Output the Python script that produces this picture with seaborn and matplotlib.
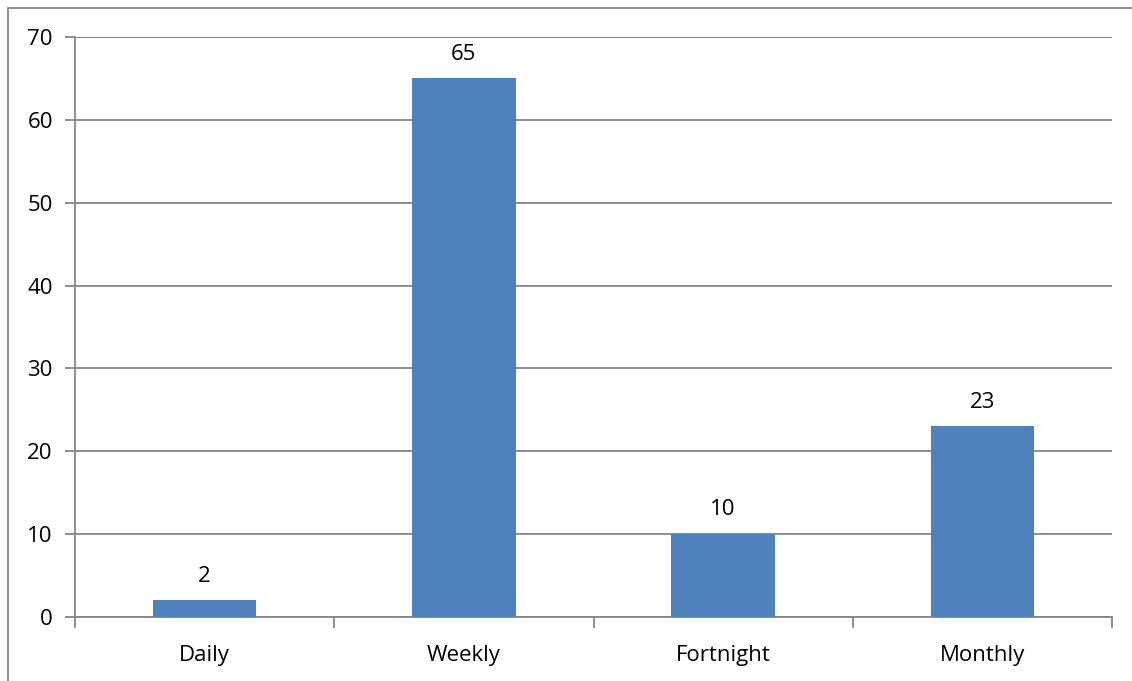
import matplotlib
matplotlib.use("Agg")
import matplotlib.pyplot as plt
import seaborn as sns
import pandas as pd
from matplotlib.patches import Rectangle

categories = ["Daily", "Weekly", "Fortnight", "Monthly"]
values = [2, 65, 10, 23]
y_ticks = [0, 10, 20, 30, 40, 50, 60, 70]

bar_color = "#4F81BD"
line_color = "#868686"

sns.set_theme(style="white")
plt.rcParams["font.family"] = ["Open Sans", "DejaVu Sans"]

df = pd.DataFrame({"category": categories, "value": values})

fig = plt.figure(figsize=(11.32, 6.81), dpi=100)
ax = fig.add_axes([75 / 1132, 1 - 617 / 681, (1112 - 75) / 1132, (617 - 37) / 681])

sns.barplot(data=df, x="category", y="value", color=bar_color, saturation=1,
            width=0.4, linewidth=0, edgecolor="none", ax=ax, zorder=3)

ax.set_ylim(0, 70)
ax.set_xlim(-0.5, len(categories) - 0.5)
ax.set_yticks(y_ticks)
ax.set_xlabel("")
ax.set_ylabel("")

# horizontal gridlines
ax.yaxis.grid(True, color=line_color, linewidth=1.3, zorder=0)
ax.set_axisbelow(True)

for side in ["top", "right"]:
    ax.spines[side].set_visible(False)
for side in ["left", "bottom"]:
    ax.spines[side].set_color(line_color)
    ax.spines[side].set_linewidth(1.3)

ax.tick_params(axis="y", which="major", length=7, width=1.3, color=line_color,
               labelsize=16, labelcolor="black", pad=9, left=True)
ax.tick_params(axis="x", which="major", length=0, labelsize=16,
               labelcolor="black", pad=20)
ax.set_xticks([i - 0.5 for i in range(len(categories) + 1)], minor=True)
ax.tick_params(axis="x", which="minor", length=8, width=1.3, color=line_color,
               bottom=True)

# value labels above each bar
for container in ax.containers:
    ax.bar_label(container, labels=[str(v) for v in values], padding=10,
                 fontsize=16, color="black")

# outer chart border
fig.patches.append(Rectangle((7.5 / 1132, -0.1), 1.2, 1 - 7.5 / 681 + 0.1,
                             transform=fig.transFigure, fill=False,
                             edgecolor=line_color, linewidth=1.3))

fig.savefig("out.png", dpi=100)
